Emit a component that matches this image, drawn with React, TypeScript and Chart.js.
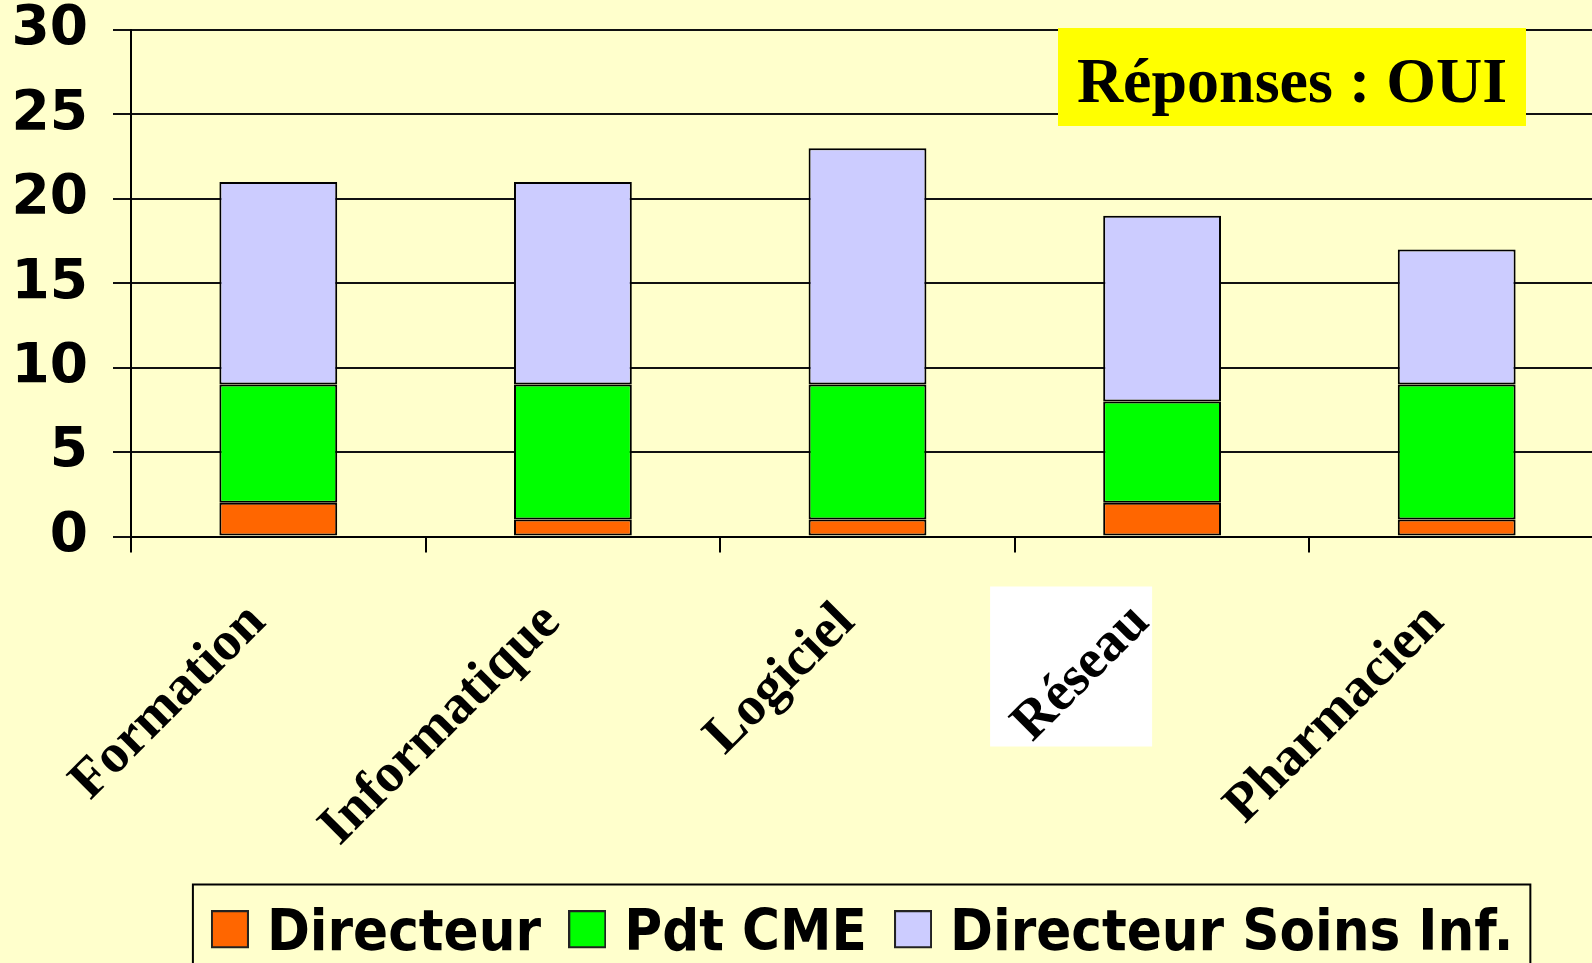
import React, { useEffect, useRef } from 'react';
import { Chart, registerables } from 'chart.js';

Chart.register(...registerables);

const categories = ['Formation', 'Informatique', 'Logiciel', 'Réseau', 'Pharmacien'];
const directeur = [2, 1, 1, 2, 1];
const pdtCME = [7, 8, 8, 6, 8];
const directeurSoins = [12, 12, 14, 11, 8];
const seriesNames = ['Directeur', 'Pdt CME', 'Directeur Soins Inf.'];
const seriesColors = ['#FF6600', '#00FF00', '#CCCCFF'];
const yTicks = [0, 5, 10, 15, 20, 25, 30];
const titleText = 'Réponses : OUI';
const highlightedCategory = 'Réseau';

const BG = '#FFFFCC';

function makeSwatch(color: string) {
  const c = document.createElement('canvas');
  c.width = 38;
  c.height = 50;
  const g = c.getContext('2d')!;
  g.fillStyle = color;
  g.fillRect(0, 0, 38, 38);
  g.strokeStyle = '#222';
  g.lineWidth = 2;
  g.strokeRect(1, 1, 36, 36);
  return c;
}

const backgroundPlugin = {
  id: 'bgAndHighlight',
  beforeDraw(chart: any) {
    const { ctx, chartArea, scales } = chart;
    ctx.save();
    ctx.fillStyle = BG;
    ctx.fillRect(0, 0, chart.width, chart.height);
    const idx = categories.indexOf(highlightedCategory);
    if (idx >= 0) {
      const cx = scales.x.getPixelForValue(idx);
      ctx.fillStyle = '#FFFFFF';
      ctx.fillRect(cx - 172, chartArea.bottom + 50, 162, 160);
    }
    ctx.restore();
  },
};

const titleBoxPlugin = {
  id: 'titleBox',
  afterDraw(chart: any) {
    const { ctx, chartArea } = chart;
    const left = chartArea.right - 546;
    const top = chartArea.top - 2;
    const w = 468;
    const h = 98;
    ctx.save();
    ctx.fillStyle = '#FFFF00';
    ctx.fillRect(left, top, w, h);
    ctx.fillStyle = '#000';
    ctx.font = 'bold 64px "Liberation Serif"';
    ctx.textAlign = 'center';
    ctx.textBaseline = 'alphabetic';
    ctx.fillText(titleText, left + w / 2, top + 73.5);
    ctx.restore();
  },
};

const legendBorderPlugin = {
  id: 'legendBorder',
  afterDraw(chart: any) {
    const lg = chart.legend;
    if (!lg || !lg.legendHitBoxes || !lg.legendHitBoxes.length) return;
    const boxes = lg.legendHitBoxes;
    let l = Infinity, r = -Infinity, t = Infinity;
    boxes.forEach((b: any) => {
      l = Math.min(l, b.left);
      r = Math.max(r, b.left + b.width);
      t = Math.min(t, b.top);
    });
    const { ctx } = chart;
    ctx.save();
    ctx.strokeStyle = '#000';
    ctx.lineWidth = 2;
    ctx.strokeRect(l - 28.75, t - 22, r - l + 45.75, 200);
    ctx.restore();
  },
};

export default function App() {
  const ref = useRef<HTMLCanvasElement | null>(null);

  useEffect(() => {
    if (!ref.current) return;
    const swatches = seriesColors.map(makeSwatch);
    const chart = new Chart(ref.current, {
      type: 'bar',
      data: {
        labels: categories,
        datasets: [
          { label: seriesNames[0], data: directeur, backgroundColor: seriesColors[0] },
          { label: seriesNames[1], data: pdtCME, backgroundColor: seriesColors[1] },
          { label: seriesNames[2], data: directeurSoins, backgroundColor: seriesColors[2] },
        ].map((d) => ({
          ...d,
          borderColor: '#000',
          borderWidth: 2,
          borderSkipped: false,
          categoryPercentage: 1,
          barPercentage: 0.4,
        })),
      },
      options: {
        responsive: false,
        animation: false,
        devicePixelRatio: 1,
        layout: { padding: { top: 0, left: 0, right: 6, bottom: 26 } },
        scales: {
          x: {
            stacked: true,
            offset: true,
            grid: {
              display: true,
              drawOnChartArea: false,
              offset: true,
              tickLength: 16,
              color: '#000',
              lineWidth: 2,
            },
            border: { display: true, color: '#000', width: 2 },
            ticks: {
              color: '#000',
              minRotation: 45,
              maxRotation: 45,
              padding: 38,
              labelOffset: -21,
              font: { family: '"Liberation Serif"', weight: 'bold', size: 55 },
            },
            afterFit: (s: any) => {
              s.height = 332;
            },
          },
          y: {
            stacked: true,
            min: 0,
            max: 30,
            afterBuildTicks: (s: any) => {
              s.ticks = yTicks.map((v) => ({ value: v }));
            },
            grid: { color: '#111', lineWidth: 2, tickLength: 18 },
            border: { display: true, color: '#000', width: 2 },
            ticks: {
              color: '#000',
              padding: 25,
              font: { family: '"DejaVu Sans"', weight: 'bold', size: 55 },
            },
            afterFit: (s: any) => {
              s.width = 131;
              s.paddingTop = 30;
              s.paddingBottom = 0;
            },
          },
        },
        plugins: {
          legend: {
            position: 'bottom',
            fullSize: false,
            align: 'center',
            labels: {
              usePointStyle: true,
              pointStyleWidth: 16.5,
              boxHeight: 38,
              padding: 38,
              color: '#000',
              font: { family: '"DejaVu Sans Condensed"', weight: 'bold', size: 57.5 },
              generateLabels: (c: any) => {
                const items = Chart.defaults.plugins.legend.labels.generateLabels(c);
                return items.map((it: any, i: number) => ({ ...it, pointStyle: swatches[i % swatches.length] }));
              },
            },
          },
          tooltip: { enabled: false },
          title: { display: false },
        },
      },
      plugins: [backgroundPlugin, titleBoxPlugin, legendBorderPlugin],
    } as any);
    return () => chart.destroy();
  }, []);

  return (
    <div
      style={{
        position: 'fixed',
        left: 0,
        top: 0,
        width: 1592,
        height: 963,
        overflow: 'hidden',
        background: BG,
      }}
    >
      <canvas ref={ref} width={1610} height={1000} style={{ display: 'block', width: 1610, height: 1000 }} />
    </div>
  );
}
